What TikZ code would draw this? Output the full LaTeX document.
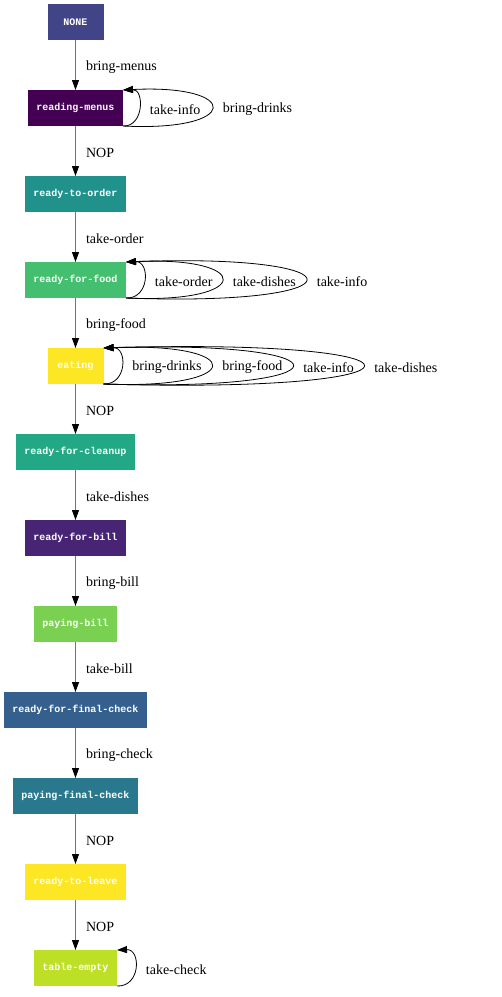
\documentclass[tikz,border=0pt]{standalone}
\usepackage{fontspec}
\setmainfont{Liberation Serif}
\newfontfamily\statefont{Liberation Mono}
\usetikzlibrary{arrows.meta,calc}

\definecolor{cNone}{HTML}{414487}
\definecolor{cReading}{HTML}{440154}
\definecolor{cOrder}{HTML}{21918C}
\definecolor{cFood}{HTML}{44BF70}
\definecolor{cEating}{HTML}{FDE725}
\definecolor{cCleanup}{HTML}{22A884}
\definecolor{cBill}{HTML}{482475}
\definecolor{cPaying}{HTML}{7AD151}
\definecolor{cFinal}{HTML}{355F8D}
\definecolor{cPayFinal}{HTML}{2A788E}
\definecolor{cLeave}{HTML}{FDE725}
\definecolor{cEmpty}{HTML}{BDDF26}

% self loop: node, horizontal reach, vertical bulge, label
\newcommand\selfloop[4]{%
  \draw[loopedge] (#1.south east)
    .. controls ($(#1.south east)+(1.333*#2,#3)$) and ($(#1.north east)+(1.333*#2,-#3)$)
    .. (#1.north east) node[pos=0.5, looplbl] {#4};}

\begin{document}
\begin{tikzpicture}[x=1pt, y=-1pt,
  state/.style={rectangle, draw=none, fill=#1, text=white,
    font=\statefont\bfseries\fontsize{10}{12}\selectfont,
    minimum height=36pt, minimum width=56pt, inner xsep=8.5pt, inner ysep=0pt, outer sep=0pt},
  trans/.style={draw=black!55, line width=1.1pt,
    -{Triangle[length=10pt, width=7pt, color=black]}},
  loopedge/.style={draw=black, line width=0.8pt,
    -{Triangle[length=10pt, width=7pt, color=black]}},
  lbl/.style={anchor=west, inner sep=0pt, xshift=10pt, yshift=-2pt, font=\fontsize{14}{16}\selectfont},
  looplbl/.style={anchor=west, inner sep=0pt, xshift=10.5pt, yshift=-1.5pt, font=\fontsize{14}{16}\selectfont}
]
\useasboundingbox (0,0) rectangle (502,997);

\node[state=cNone]      (none)    at (75.5, 22)  {NONE};
\node[state=cReading]   (reading) at (75.5, 108) {reading-menus};
\node[state=cOrder]     (order)   at (75.5, 194) {ready-to-order};
\node[state=cFood]      (food)    at (75.5, 280) {ready-for-food};
\node[state=cEating]    (eating)  at (75.5, 366) {eating};
\node[state=cCleanup]   (cleanup) at (75.5, 452) {ready-for-cleanup};
\node[state=cBill]      (bill)    at (75.5, 538) {ready-for-bill};
\node[state=cPaying]    (paying)  at (75.5, 624) {paying-bill};
\node[state=cFinal]     (final)   at (75.5, 710) {ready-for-final-check};
\node[state=cPayFinal]  (payfin)  at (75.5, 796) {paying-final-check};
\node[state=cLeave]     (leave)   at (75.5, 882) {ready-to-leave};
\node[state=cEmpty]     (empty)   at (75.5, 968) {table-empty};

\draw[trans] (none)    -- node[lbl] {bring-menus} (reading);
\draw[trans] (reading) -- node[lbl] {NOP}         (order);
\draw[trans] (order)   -- node[lbl] {take-order}  (food);
\draw[trans] (food)    -- node[lbl] {bring-food}  (eating);
\draw[trans] (eating)  -- node[lbl] {NOP}         (cleanup);
\draw[trans] (cleanup) -- node[lbl] {take-dishes} (bill);
\draw[trans] (bill)    -- node[lbl] {bring-bill}  (paying);
\draw[trans] (paying)  -- node[lbl] {take-bill}   (final);
\draw[trans] (final)   -- node[lbl] {bring-check} (payfin);
\draw[trans] (payfin)  -- node[lbl] {NOP}         (leave);
\draw[trans] (leave)   -- node[lbl] {NOP}         (empty);

\selfloop{reading}{16}{1}{take-info}
\selfloop{reading}{89}{6}{bring-drinks}

\selfloop{food}{18}{1}{take-order}
\selfloop{food}{96}{6}{take-dishes}
\selfloop{food}{180}{9}{take-info}

\selfloop{eating}{18}{1}{bring-drinks}
\selfloop{eating}{108}{6}{bring-food}
\selfloop{eating}{189}{8}{take-info}
\selfloop{eating}{260}{10}{take-dishes}

\selfloop{empty}{18}{1}{take-check}
\end{tikzpicture}
\end{document}
